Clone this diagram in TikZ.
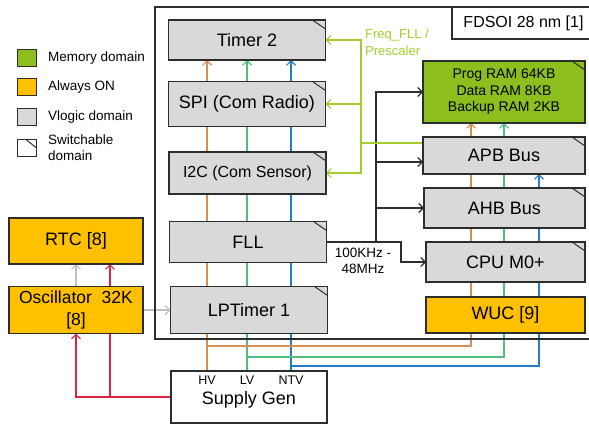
\documentclass[tikz,border=0pt]{standalone}
\usepackage{fontspec}
\setmainfont{Liberation Sans}
\usetikzlibrary{arrows.meta, positioning, calc, backgrounds}
\definecolor{memgreen}{RGB}{140,190,30}
\definecolor{aoorange}{RGB}{255,192,0}
\definecolor{vlgrey}{RGB}{217,217,217}
\definecolor{hvcol}{RGB}{214,142,82}
\definecolor{lvcol}{RGB}{78,190,122}
\definecolor{ntvcol}{RGB}{36,124,200}
\definecolor{redcol}{RGB}{222,34,64}
\definecolor{freqcol}{RGB}{160,205,45}
\definecolor{edgecol}{RGB}{45,45,45}
\newcommand{\boxfont}{\fontsize{18}{21}\selectfont}
\newcommand{\midfont}{\fontsize{16}{19}\selectfont}
\newcommand{\smallfont}{\fontsize{13.5}{16}\selectfont}
\tikzset{>={Straight Barb[length=4.5pt,width=9pt]},
	block/.style={draw=edgecol, line width=1.2pt, minimum width=157pt, inner sep=0pt, outer sep=0pt, font=\boxfont},
	vlogic/.style={block, fill=vlgrey},
	memory/.style={block, fill=memgreen},
	alwayson/.style={block, fill=aoorange},
	legbox/.style={draw=edgecol, line width=1pt, minimum width=19pt, minimum height=17pt, inner sep=0pt, outer sep=0pt},
	legtxt/.style={inner sep=0pt, font=\smallfont, align=left},
	wire/.style={line width=1.1pt},
	hvline/.style={wire, hvcol},
	lvline/.style={wire, lvcol},
	ntvline/.style={wire, ntvcol},
	pwrline/.style={wire, redcol},
	clkline/.style={wire, edgecol},
	freqline/.style={wire, freqcol},
	greyline/.style={wire, black!25}}

\begin{document}
\begin{tikzpicture}[x=1pt, y=-1pt]
	\useasboundingbox (0,0) rectangle (589,428);

	% legend
	\node [legbox, fill=memgreen] (lmem) at (26.5,58) {};
	\node [legtxt, right=12pt of lmem] (tmem) {Memory domain};
	\node [legbox, fill=aoorange] (lao) at (26.5,87) {};
	\node [legtxt, right=12pt of lao] (tao) {Always ON};
	\node [legbox, fill=vlgrey] (lvl) at (26.5,117) {};
	\node [legtxt, right=12pt of lvl] (tvl) {Vlogic domain};
	\node [legbox, fill=white] (lsw) at (26.5,148) {};
	\node [legtxt, right=12pt of lsw] (tsw) {Switchable\\domain};
	\draw [edgecol, line width=1pt] ([xshift=-10pt]lsw.north east) -- ([yshift=-8pt]lsw.north east);

	% chip
	\draw [edgecol, line width=1.5pt] (155,7) rectangle (595,339);
	\node [block, fill=white, anchor=north west, minimum width=143pt, minimum height=32pt, font=\midfont] (tech) at (452,7) {FDSOI 28 nm [1]};

	\node [vlogic, minimum height=40pt] (tmr) at (247,40) {Timer 2};
	\node [vlogic, minimum height=45pt] (spi) at (247,104) {SPI (Com Radio)};
	\node [vlogic, minimum height=42pt, font=\midfont] (itc) at (247.5,173) {I2C (Com Sensor)};
	\node [vlogic, minimum height=41pt] (fll) at (248,242) {FLL};
	\node [vlogic, minimum height=47pt] (lpt) at (249,310) {LPTimer 1};

	\node [memory, minimum width=162pt, minimum height=62pt, align=center, font=\fontsize{14}{16.5}\selectfont] (ram) at (504,92) {Prog RAM 64KB\\Data RAM 8KB\\Backup RAM 2KB};
	\node [vlogic, minimum width=162pt, minimum height=37pt] (apb) at (504,155.5) {APB Bus};
	\node [vlogic, minimum width=161pt, minimum height=40pt] (ahb) at (504.5,208) {AHB Bus};
	\node [vlogic, minimum width=159pt, minimum height=40pt] (cpu) at (505.5,262) {CPU M0+};
	\node [alwayson, minimum width=159pt, minimum height=36pt] (wuc) at (505.5,315) {WUC [9]};

	\node [alwayson, minimum width=134pt, minimum height=46pt] (rtc) at (76,241) {RTC [8]};
	\node [alwayson, minimum width=134pt, minimum height=47pt, align=center, font=\fontsize{17.5}{22}\selectfont] (osc) at (76,310) {Oscillator~~32K\\{[8]}};

	\node [block, fill=white, minimum width=156pt, minimum height=52pt] (sup) at (249,397) {};
	\node [font=\boxfont, inner sep=0pt] (tsup) at (249,400) {Supply Gen};
	\node [font=\fontsize{12.5}{15}\selectfont, inner sep=0pt] (lhv) at (207,380) {HV};
	\node [font=\fontsize{12.5}{15}\selectfont, inner sep=0pt] (llv) at (247,380) {LV};
	\node [font=\fontsize{12.5}{15}\selectfont, inner sep=0pt] (lntv) at (291,380) {NTV};

	% switchable corners
	\foreach \b in {tmr, spi, itc, fll, lpt, ram, apb, ahb, cpu}
		\draw [edgecol, line width=1pt] ([xshift=-13pt]\b.north east) -- ([yshift=-9pt]\b.north east);

	\node [font=\fontsize{13}{17}\selectfont, freqcol, align=left, anchor=west, inner sep=0pt] (flbl) at (365,42) {Freq\_FLL /\\Prescaler};
	\node [font=\smallfont, align=center, inner sep=0pt] (fclk) at (363,261) {100KHz -\\48MHz};

	\begin{scope}[on background layer]
		% supplies
		\coordinate (hv) at (207,346);
		\coordinate (lv) at (247,357);
		\coordinate (ntv) at (291,366);
		\coordinate (hvr) at (471,346);
		\coordinate (lvr) at (504,357);
		\coordinate (ntvr) at (539,366);
		\draw [hvline, ->] (sup.north -| hv) -- (tmr.south -| hv);
		\draw [lvline, ->] (sup.north -| lv) -- (tmr.south -| lv);
		\draw [ntvline, ->] (sup.north -| ntv) -- (tmr.south -| ntv);
		\draw [hvline, ->] (hv) -- (hvr) -- (ram.south -| hvr);
		\draw [lvline, ->] (lv) -- (lvr) -- (ram.south -| lvr);
		\draw [ntvline, ->] (ntv) -- (ntvr) -- (apb.south -| ntvr);

		\coordinate (rtap) at (110,397);
		\draw [pwrline, ->] (sup.west) -| (osc.south);
		\draw [pwrline, ->] (rtap) -- (rtc.south -| rtap);
		\draw [greyline, ->] (osc.north) -- (rtc.south);
		\draw [greyline, ->] (osc.east) -- (lpt.west);

		% clocks
		\coordinate (trunk) at (376,0);
		\coordinate (bend) at (401,0);
		\coordinate (apbin) at ([yshift=-6.5pt]apb.west);
		\draw [clkline, ->] (fll.east) -- (fll.east -| bend) |- (cpu.west);
		\draw [clkline, ->] (fll.east -| trunk) |- (ram.west);
		\draw [clkline, ->] (apbin -| trunk) -- (apbin);
		\draw [clkline, ->] (ahb.west -| trunk) -- (ahb.west);

		\coordinate (fq) at (361,143);
		\draw [freqline] (fq) -- (fq -| apb.west);
		\draw [freqline, ->] (fq) |- (tmr.east);
		\draw [freqline, ->] (fq) |- (itc.east);
		\draw [freqline, ->] (fq |- spi.east) -- (spi.east);
	\end{scope}
\end{tikzpicture}
\end{document}
